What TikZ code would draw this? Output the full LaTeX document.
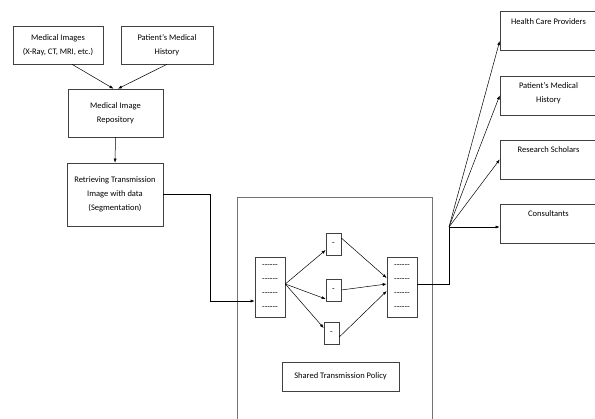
\documentclass[tikz,border=0pt]{standalone}
\usepackage{fontspec}
\setmainfont{Carlito}[Ligatures=TeXOff]
\usetikzlibrary{arrows.meta}

\begin{document}
\begin{tikzpicture}[x=1pt,y=-1pt,
  >={Latex[length=4pt,width=3pt]},
  txt/.style={font=\fontsize{8.5}{14}\selectfont},
  box/.style={txt,draw=black!75,line width=0.6pt,align=center,inner sep=0pt},
  panel/.style={draw=black!55,line width=0.7pt,inner sep=0pt},
  stack/.style={box,minimum width=30pt,minimum height=60pt},
  slot/.style={box,minimum width=15pt,minimum height=22pt},
  rightbox/.style={box,minimum width=97pt,minimum height=39pt},
  tag/.style={txt,anchor=north,yshift=-7pt,inner sep=0pt,align=center},
  flow/.style={->,line width=0.5pt}]
\clip (0,0) rectangle (595,419);
\node[box,minimum width=90pt,minimum height=38pt] (medimg) at (58,45) {Medical Images\\(X-Ray, CT, MRI, etc.)};
\node[box,minimum width=92pt,minimum height=38pt] (history) at (167,45) {Patient’s Medical\\History};
\node[box,minimum width=95pt,minimum height=48pt] (repo) at (115.5,113) {Medical Image\\Repository};
\node[box,minimum width=96pt,minimum height=63pt] (retrieve) at (115,194.5) {Retrieving Transmission\\Image with data\\(Segmentation)};
\node[panel,minimum width=195pt,minimum height=240pt] (cloud) at (334.5,317) {};
\node[stack] (inbuf) at (270,287) {------\\------\\------\\------};
\node[slot] (slotA) at (333.5,244) {-};
\node[slot] (slotB) at (333.5,290) {-};
\node[slot] (slotC) at (331.5,333) {-};
\node[stack] (outbuf) at (402,287) {------\\------\\------\\------};
\node[box,minimum width=117pt,minimum height=29pt] (policy) at (340.5,376.5) {Shared Transmission Policy};
\node[rightbox,label={[tag]north:Health Care Providers}] (hcp) at (548.5,31) {};
\node[rightbox,label={[tag]north:Patient’s Medical\\History}] (pmh) at (548.5,95.5) {};
\node[rightbox,label={[tag]north:Research Scholars}] (rs) at (548.5,159.5) {};
\node[rightbox,label={[tag]north:Consultants}] (cons) at (548.5,223.5) {};
\coordinate (elbow) at (210,301);
\coordinate (hub) at (449,227);
\draw[flow] ([xshift=14pt]medimg.south) -- ([xshift=-2pt]repo.north);
\draw[flow] (history.south) -- ([xshift=2.5pt]repo.north);
\draw[flow] (repo.south) -- (retrieve.north);
\draw[flow] (retrieve.east) -| (elbow) -- ([yshift=-14pt]inbuf.west);
\draw[flow] ([yshift=3pt]inbuf.east) -- ([yshift=-6pt]slotA.west);
\draw[flow] ([yshift=3pt]inbuf.east) -- ([yshift=-9pt]slotB.west);
\draw[flow] ([yshift=3pt]inbuf.east) -- ([yshift=5pt]slotC.west);
\draw[flow] ([yshift=6pt]slotA.east) -- ([yshift=9pt]outbuf.west);
\draw[flow] (slotB.east) -- ([yshift=3pt]outbuf.west);
\draw[flow] ([yshift=-4pt]slotC.east) -- ([yshift=-4pt]outbuf.west);
\draw[line width=0.5pt] ([yshift=3pt]outbuf.east) -| (hub);
\draw[flow] (hub) -- ([yshift=-10pt]hcp.west);
\draw[flow] (hub) -- (pmh.west);
\draw[flow] (hub) -- (rs.west);
\draw[flow] (hub) -- (hub -| cons.west);
\end{tikzpicture}
\end{document}
